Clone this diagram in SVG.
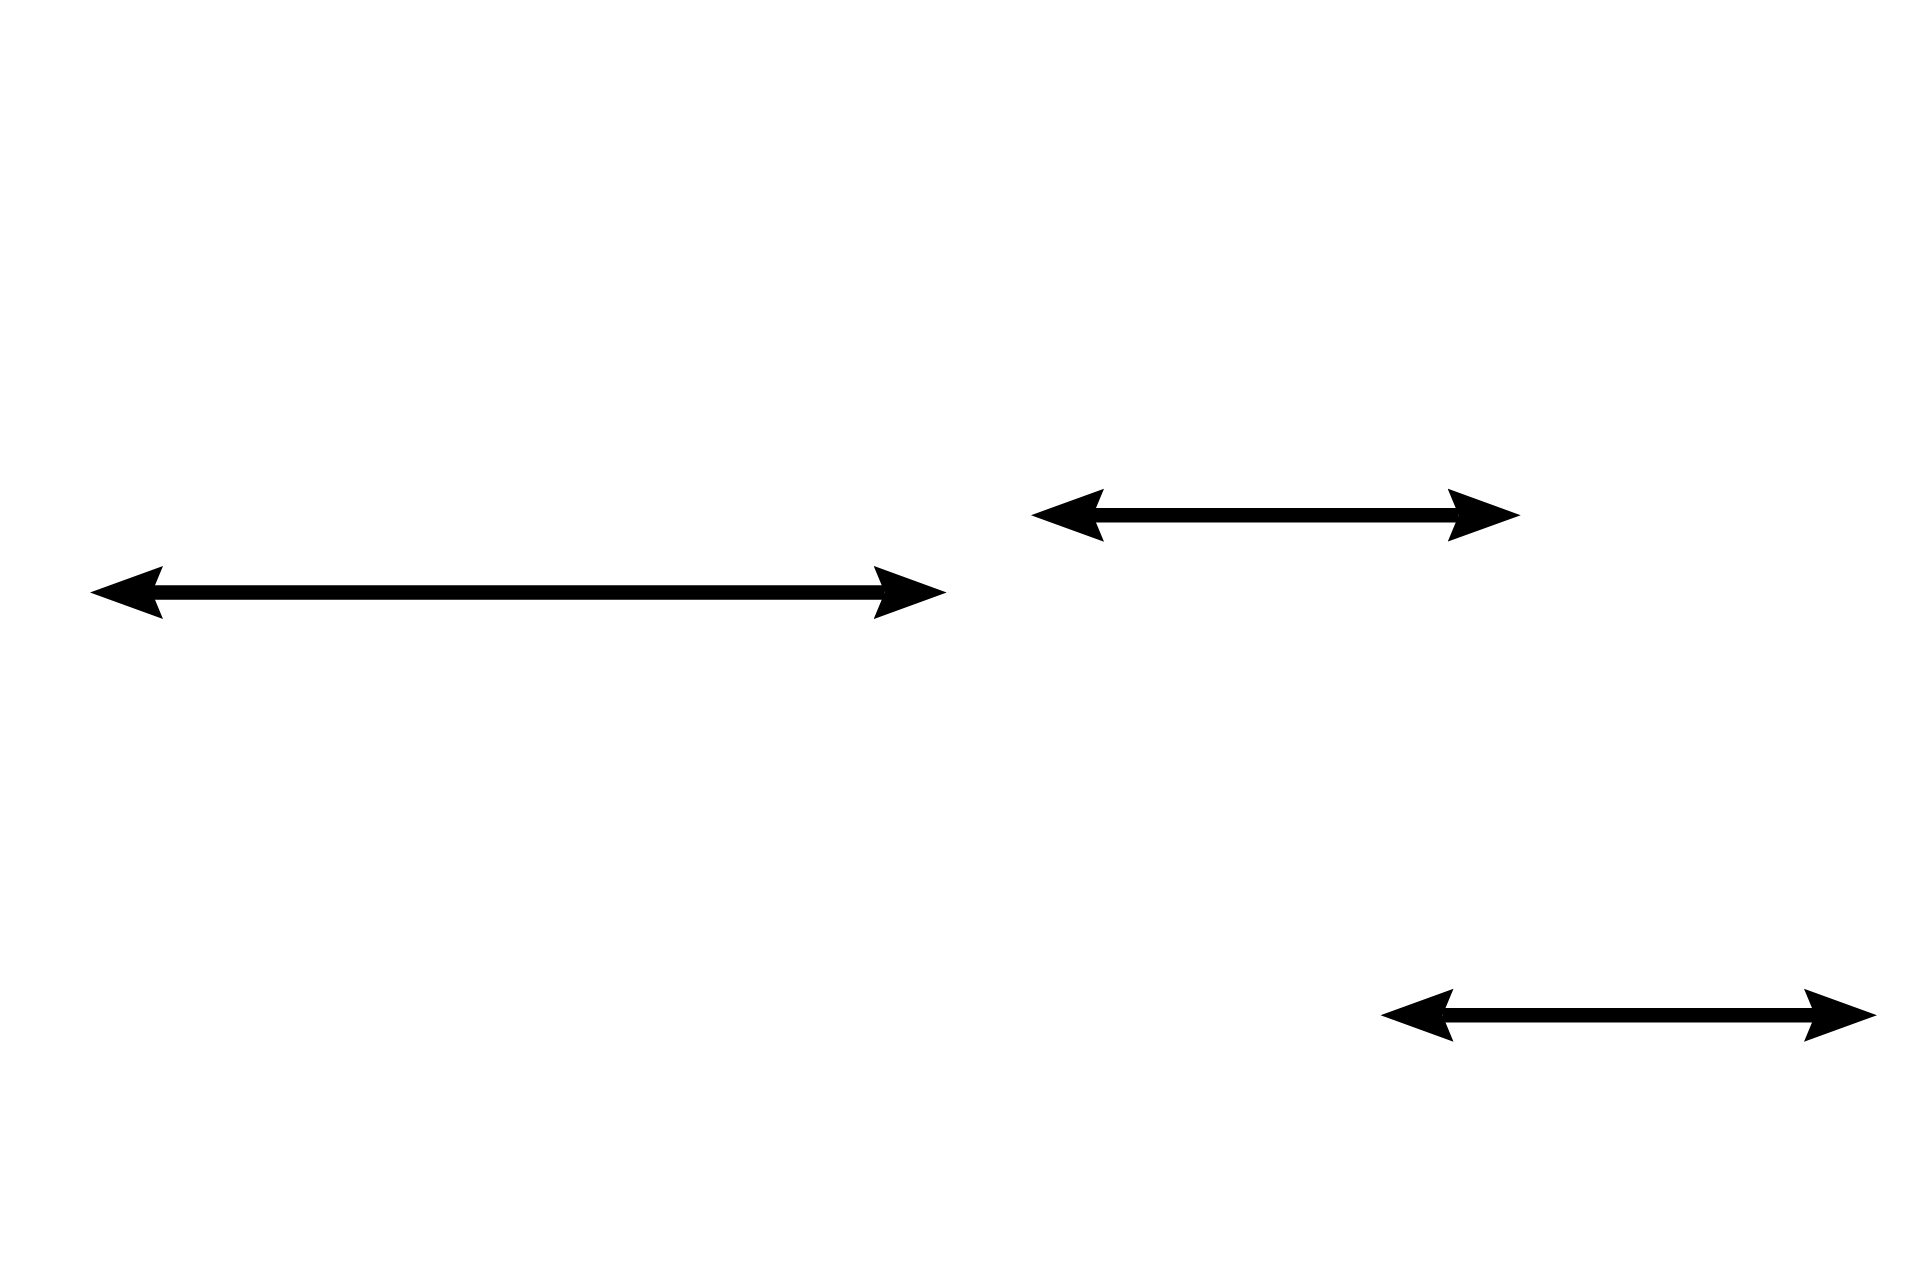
<svg xmlns="http://www.w3.org/2000/svg" width="1920" height="1280" viewBox="0 0 1920 1280">
  <style>
    .conn { stroke: #000; stroke-width: 14.5; fill: none; marker-start: url(#head); marker-end: url(#head); }
  </style>
  <defs>
    <marker id="head" viewBox="0 -27 74 54" refX="11" refY="0" markerWidth="74" markerHeight="54" markerUnits="userSpaceOnUse" orient="auto-start-reverse">
      <path d="M 0 -26.5 L 73 0 L 0 26.5 L 11 0 Z" fill="#000"/>
    </marker>
  </defs>
  <rect width="1920" height="1280" fill="#fff"/>
  <g id="connectors">
    <line class="conn" x1="152" y1="592.5" x2="884.7" y2="592.5"/>
    <line class="conn" x1="1093" y1="515.2" x2="1458.7" y2="515.2"/>
    <line class="conn" x1="1442.5" y1="1015.2" x2="1815" y2="1015.2"/>
  </g>
</svg>
